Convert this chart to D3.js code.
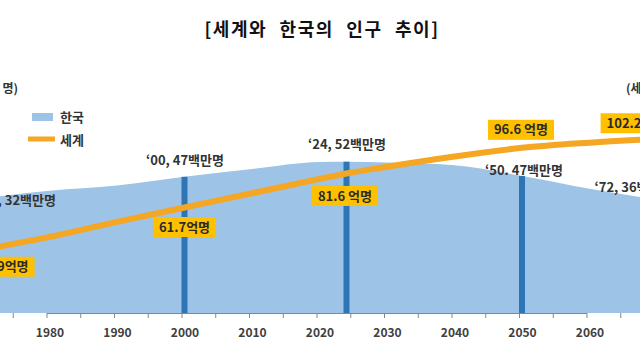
<!DOCTYPE html>
<html>
<head>
<meta charset="utf-8">
<script src="https://cdn.jsdelivr.net/npm/d3@7"></script>
<style>
  body { margin: 0; background: #fff; }
  svg { display: block; font-family: "Noto Sans CJK KR", "Noto Sans", sans-serif; }
</style>
</head>
<body>
<div id="chart"></div>
<script>
// values (korea: 백만 명, world: 억 명)
const years = [1970, 1980, 1990, 2000, 2010, 2020, 2024, 2030, 2040, 2050, 2060, 2072];
const korea = [39.5, 42.1, 43.9, 46.9, 49.6, 52.0, 52.1, 51.8, 50.9, 47.2, 42.8, 38.3];
const world = [37.0, 44.5, 53.3, 61.7, 70.0, 78.4, 81.6, 85.5, 91.5, 96.6, 99.6, 102.2];

const tickYears = d3.range(1970, 2071, 5);
const tickLabels = ["1980", "1990", "2000", "2010", "2020", "2030", "2040", "2050", "2060"];
const markerYears = [2000, 2024, 2050];

const koreaNotes = [
    { year: 1970, text: "‘70, 32백만명" },
    { year: 2000, text: "‘00, 47백만명" },
    { year: 2024, text: "‘24, 52백만명" },
    { year: 2050, text: "‘50. 47백만명" },
    { year: 2072, text: "‘72, 36백만명" },
];
const worldNotes = [
    { year: 1970, text: "36.9억명" },
    { year: 2000, text: "61.7억명" },
    { year: 2024, text: "81.6 억명" },
    { year: 2050, text: "96.6 억명" },
    { year: 2072, text: "102.2 억명" },
];

const width = 640, height = 360;
const axisY = 313;
const areaColor = "#9dc3e6", barColor = "#2e75b6", lineColor = "#f5a623", boxColor = "#ffc000";

const svg = d3.select("#chart").append("svg").attr("width", width).attr("height", height);

const x = d3.scaleLinear().domain([1980, 2060]).range([49.5, 589.5]);
const yK = d3.scaleLinear().domain([0, 52]).range([axisY, 162]);
const yW = d3.scaleLinear().domain([0, 100]).range([axisY, 142]);

const data = years.map((year, i) => ({ year, korea: korea[i], world: world[i] }));
const koreaAt = yr => data.find(d => d.year === yr).korea;
const worldAt = yr => data.find(d => d.year === yr).world;

// title
svg.append("text")
    .attr("x", 322).attr("y", 36)
    .attr("text-anchor", "middle")
    .style("font-size", "18px").style("font-weight", "bold")
    .style("letter-spacing", "1.5px").style("word-spacing", "7px")
    .attr("fill", "#111")
    .text("[세계와 한국의 인구 추이]");

// unit labels
svg.append("text").attr("x", 18).attr("y", 93).attr("text-anchor", "end")
    .style("font-size", "12px").style("font-weight", "bold").attr("fill", "#333")
    .text("(한국: 백만 명)");
svg.append("text").attr("x", 626).attr("y", 93)
    .style("font-size", "12px").style("font-weight", "bold").attr("fill", "#333")
    .text("(세계: 억 명)");

// korea area
const area = d3.area().x(d => x(d.year)).y0(axisY).y1(d => yK(d.korea)).curve(d3.curveMonotoneX);
svg.append("path").datum(data).attr("d", area).attr("fill", areaColor);

// marker bars
svg.selectAll(".marker")
    .data(markerYears)
    .join("rect")
    .attr("class", "marker")
    .attr("x", d => x(d) - 3)
    .attr("y", d => yK(koreaAt(d)))
    .attr("width", 6)
    .attr("height", d => axisY - yK(koreaAt(d)))
    .attr("fill", barColor);

// axis
const xAxis = d3.axisBottom(x)
    .tickValues(tickYears)
    .tickSize(5)
    .tickSizeOuter(0)
    .tickFormat(d => tickLabels.includes(String(d)) ? String(d) : "");
const gx = svg.append("g").attr("transform", `translate(-3,${axisY})`).call(xAxis);
gx.select(".domain").attr("stroke", "#7f8792").attr("stroke-width", 1.2);
gx.selectAll(".tick line").attr("stroke", "#7f8792");
gx.selectAll(".tick text")
    .attr("dx", 3).attr("y", 15)
    .style("font-size", "12px").style("font-weight", "bold")
    .style("font-family", "'Noto Sans CJK KR', sans-serif")
    .attr("fill", "#404040");

// world line
const line = d3.line().x(d => x(d.year)).y(d => yW(d.world)).curve(d3.curveMonotoneX);
svg.append("path").datum(data).attr("d", line)
    .attr("fill", "none").attr("stroke", lineColor).attr("stroke-width", 6);

// world boxes
const boxPlace = { 1970: [21, 17], 2000: [0, 19.5], 2024: [-1.5, 22.5], 2050: [-1, -18], 2072: [-33, -15] };
worldNotes.forEach(n => {
    const [dx, dy] = boxPlace[n.year];
    const cx = x(n.year) + dx, cy = yW(worldAt(n.year)) + dy;
    const g = svg.append("g");
    const t = g.append("text")
        .attr("x", cx).attr("y", cy).attr("dy", "0.36em")
        .attr("text-anchor", "middle")
        .style("font-size", "13px").style("font-weight", "bold")
        .attr("fill", "#2b2b2b")
        .text(n.text);
    const w = t.node().getComputedTextLength() + 12;
    g.insert("rect", "text")
        .attr("x", cx - w / 2).attr("y", cy - 10)
        .attr("width", w).attr("height", 20)
        .attr("fill", boxColor);
});

// korea labels
const notePlace = { 1970: [35, 2], 2000: [0.5, -16], 2024: [0.5, -17], 2050: [2, -6], 2072: [-37, -14] };
koreaNotes.forEach(n => {
    const [dx, dy] = notePlace[n.year];
    svg.append("text")
        .attr("x", x(n.year) + dx).attr("y", yK(koreaAt(n.year)) + dy).attr("dy", "0.36em")
        .attr("text-anchor", "middle")
        .style("font-size", "13px").style("font-weight", "bold")
        .attr("fill", "#333")
        .text(n.text);
});

// legend
svg.append("rect").attr("x", 32).attr("y", 113).attr("width", 21).attr("height", 8).attr("fill", areaColor);
svg.append("line").attr("x1", 28).attr("x2", 55).attr("y1", 139).attr("y2", 139)
    .attr("stroke", lineColor).attr("stroke-width", 5);
svg.selectAll(".legend-text")
    .data([["한국", 117], ["세계", 140]])
    .join("text")
    .attr("class", "legend-text")
    .attr("x", 60).attr("y", d => d[1]).attr("dy", "0.36em")
    .style("font-size", "13px").style("font-weight", "bold")
    .attr("fill", "#333")
    .text(d => d[0]);
</script>
</body>
</html>
